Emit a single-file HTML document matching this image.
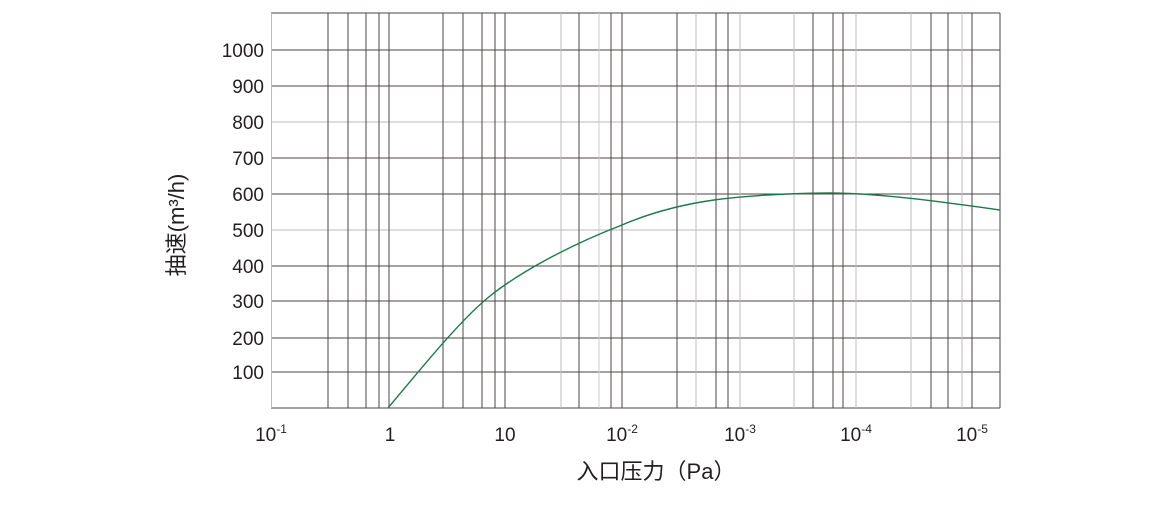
<!DOCTYPE html>
<html><head><meta charset="utf-8"><style>
body{margin:0;background:#fff;}
svg text{font-family:"Liberation Sans","Noto Sans CJK SC",sans-serif;fill:#231f1f;}
</style></head><body>
<svg width="1160" height="500" xmlns="http://www.w3.org/2000/svg">
<g stroke="#4e4646" stroke-width="1">
<line x1="271" y1="13" x2="1000" y2="13"/>
<line x1="271" y1="50" x2="1000" y2="50"/>
<line x1="271" y1="86" x2="1000" y2="86"/>
<line x1="271" y1="122" x2="1000" y2="122" stroke="#bbb"/>
<line x1="271" y1="158" x2="1000" y2="158"/>
<line x1="271" y1="194" x2="1000" y2="194"/>
<line x1="271" y1="230" x2="1000" y2="230" stroke="#bbb"/>
<line x1="271" y1="266" x2="1000" y2="266"/>
<line x1="271" y1="301" x2="1000" y2="301"/>
<line x1="271" y1="338" x2="1000" y2="338"/>
<line x1="271" y1="372" x2="1000" y2="372"/>
<line x1="271" y1="408" x2="1000" y2="408"/>
<line x1="271.5" y1="13" x2="271.5" y2="408" stroke="#bbb"/>
<line x1="1000" y1="13" x2="1000" y2="408"/>
<line x1="328" y1="13" x2="328" y2="408"/>
<line x1="348" y1="13" x2="348" y2="408"/>
<line x1="366" y1="13" x2="366" y2="408"/>
<line x1="379" y1="13" x2="379" y2="408"/>
<line x1="389" y1="13" x2="389" y2="408"/>
<line x1="443" y1="13" x2="443" y2="408"/>
<line x1="463" y1="13" x2="463" y2="408"/>
<line x1="482" y1="13" x2="482" y2="408"/>
<line x1="495" y1="13" x2="495" y2="408"/>
<line x1="505" y1="13" x2="505" y2="408"/>
<line x1="561" y1="13" x2="561" y2="408" stroke="#bbb"/>
<line x1="579" y1="13" x2="579" y2="408"/>
<line x1="599" y1="13" x2="599" y2="408" stroke="#ccc"/>
<line x1="611" y1="13" x2="611" y2="408"/>
<line x1="622" y1="13" x2="622" y2="408"/>
<line x1="677" y1="13" x2="677" y2="408"/>
<line x1="696" y1="13" x2="696" y2="408" stroke="#bbb"/>
<line x1="716" y1="13" x2="716" y2="408"/>
<line x1="728" y1="13" x2="728" y2="408"/>
<line x1="740" y1="13" x2="740" y2="408" stroke="#bbb"/>
<line x1="794" y1="13" x2="794" y2="408" stroke="#bbb"/>
<line x1="813" y1="13" x2="813" y2="408"/>
<line x1="833" y1="13" x2="833" y2="408"/>
<line x1="843" y1="13" x2="843" y2="408"/>
<line x1="856" y1="13" x2="856" y2="408" stroke="#bbb"/>
<line x1="911" y1="13" x2="911" y2="408" stroke="#bbb"/>
<line x1="931" y1="13" x2="931" y2="408"/>
<line x1="948" y1="13" x2="948" y2="408"/>
<line x1="962" y1="13" x2="962" y2="408" stroke="#bbb"/>
<line x1="972" y1="13" x2="972" y2="408"/>
</g>
<path d="M388,408 C420,370 460,320 490,296 C520,272 570,245 622,225 C680,200 740,194 830,193 C880,193 950,203 1000,210" fill="none" stroke="#1a7a4a" stroke-width="1.4"/>
<g font-size="19" text-anchor="end">
<text x="264" y="57">1000</text>
<text x="264" y="93">900</text>
<text x="264" y="129">800</text>
<text x="264" y="165">700</text>
<text x="264" y="201">600</text>
<text x="264" y="237">500</text>
<text x="264" y="273">400</text>
<text x="264" y="308">300</text>
<text x="264" y="345">200</text>
<text x="264" y="379">100</text>
</g>
<g font-size="19" text-anchor="middle">
<text x="271" y="441">10<tspan font-size="12" dy="-8">-1</tspan></text>
<text x="390" y="441">1</text>
<text x="505" y="441">10</text>
<text x="622" y="441">10<tspan font-size="12" dy="-8">-2</tspan></text>
<text x="740" y="441">10<tspan font-size="12" dy="-8">-3</tspan></text>
<text x="856" y="441">10<tspan font-size="12" dy="-8">-4</tspan></text>
<text x="972" y="441">10<tspan font-size="12" dy="-8">-5</tspan></text>
</g>
<text x="656" y="479" font-size="22" text-anchor="middle">入口压力（Pa）</text>
<text transform="translate(184,225) rotate(-90)" font-size="22" text-anchor="middle">抽速(m³/h)</text>
</svg>
</body></html>
